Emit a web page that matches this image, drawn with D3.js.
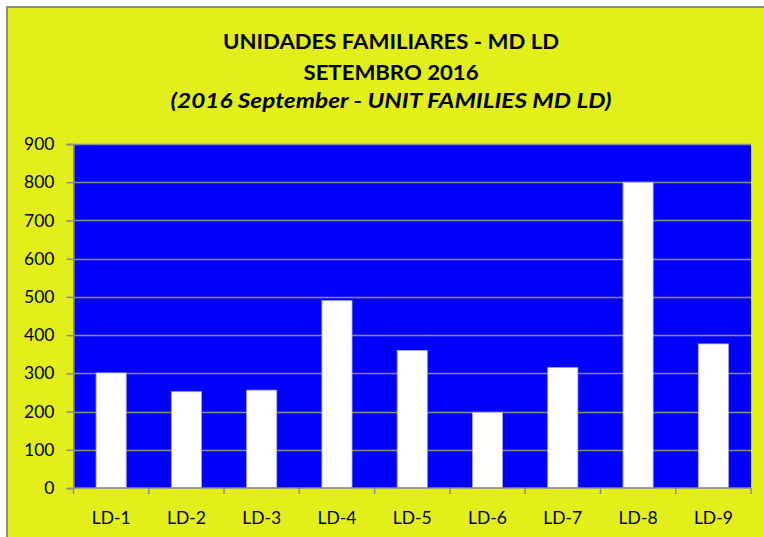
<!doctype html>
<html lang="pt">
<head>
    <meta charset="UTF-8">
    <title>Unidades Familiares - MD LD</title>
    <script src="https://d3js.org/d3.v7.min.js"></script>
    <style>
        body { margin: 0; background: #fff; }
        svg text { font-family: Lato, "Open Sans", sans-serif; }
    </style>
</head>
<body>
<div id="chart-area"></div>

<script>
const categories = ['LD-1', 'LD-2', 'LD-3', 'LD-4', 'LD-5', 'LD-6', 'LD-7', 'LD-8', 'LD-9'];
const values = [301, 252, 256, 490, 360, 198, 315, 800, 377];
const yTicks = [0, 100, 200, 300, 400, 500, 600, 700, 800, 900];
const titleLines = ['UNIDADES FAMILIARES - MD LD', 'SETEMBRO 2016', '(2016 September - UNIT FAMILIES MD LD)'];

const W = 764, H = 537;
const plot = { left: 73.5, top: 144, right: 751, bottom: 488 };
// measured widths of the title lines, so the fallback font fills the same room
const titleWidths = [336, 175, 441];

const svg = d3.select('#chart-area')
    .append('svg')
    .attr('width', W)
    .attr('height', H);

// yellow chart area with grey frame
svg.append('rect')
    .attr('x', 7).attr('y', 7)
    .attr('width', W).attr('height', H)
    .attr('fill', '#e2ef1a')
    .attr('stroke', '#8c8c8c')
    .attr('stroke-width', 2);

// titles
svg.selectAll('text.title')
    .data(titleLines)
    .enter()
    .append('text')
    .attr('class', 'title')
    .attr('x', 391)
    .attr('y', (d, i) => [48.5, 79.5, 108][i])
    .attr('text-anchor', 'middle')
    .attr('font-size', 21.5)
    .attr('font-weight', 'bold')
    .attr('font-style', (d, i) => i === 2 ? 'italic' : 'normal')
    .attr('textLength', (d, i) => titleWidths[i])
    .attr('lengthAdjust', 'spacingAndGlyphs')
    .attr('fill', '#000')
    .text(d => d);

const x = d3.scaleBand()
    .domain(categories)
    .range([plot.left, plot.right])
    .paddingInner(0.6)
    .paddingOuter(0.3);

const y = d3.scaleLinear()
    .domain([0, 900])
    .range([plot.bottom, plot.top]);

// blue plot background
svg.append('rect')
    .attr('x', plot.left)
    .attr('y', plot.top)
    .attr('width', plot.right - plot.left)
    .attr('height', plot.bottom - plot.top)
    .attr('fill', '#0000ff');

// gridlines
svg.append('g')
    .selectAll('line')
    .data(yTicks.filter(d => d > 0))
    .enter()
    .append('line')
    .attr('x1', plot.left)
    .attr('x2', plot.right)
    .attr('y1', d => Math.round(y(d)) + 0.5)
    .attr('y2', d => Math.round(y(d)) + 0.5)
    .attr('stroke', '#8a8a8a')
    .attr('stroke-width', 1.5);

// bars
svg.append('g')
    .selectAll('rect')
    .data(values)
    .enter()
    .append('rect')
    .attr('x', (d, i) => x(categories[i]))
    .attr('y', d => y(d))
    .attr('width', x.bandwidth())
    .attr('height', d => y(0) - y(d))
    .attr('fill', '#fff')
    .attr('stroke', '#a9a9d6')
    .attr('stroke-width', 0.8);

// y axis
const yAxis = svg.append('g')
    .attr('transform', `translate(${plot.left},0)`)
    .call(d3.axisLeft(y).tickValues(yTicks).tickSize(7).tickPadding(12));
yAxis.select('.domain').attr('stroke', '#8a8a8a').attr('stroke-width', 1.5);
yAxis.selectAll('.tick line').attr('stroke', '#8a8a8a').attr('stroke-width', 1.5);
yAxis.selectAll('.tick text')
    .attr('font-size', 17.5)
    .attr('fill', '#000')
    .attr('font-family', 'Lato, sans-serif');

// x axis with ticks between categories
const xAxis = svg.append('g')
    .attr('transform', `translate(0,${plot.bottom})`);
xAxis.append('line')
    .attr('x1', plot.left).attr('x2', plot.right)
    .attr('stroke', '#8a8a8a').attr('stroke-width', 1.5);
xAxis.selectAll('line.tk')
    .data(d3.range(categories.length + 1))
    .enter()
    .append('line')
    .attr('class', 'tk')
    .attr('x1', i => plot.left + i * (plot.right - plot.left) / categories.length)
    .attr('x2', i => plot.left + i * (plot.right - plot.left) / categories.length)
    .attr('y1', 0).attr('y2', 6)
    .attr('stroke', '#8a8a8a').attr('stroke-width', 1.5);
xAxis.selectAll('text')
    .data(categories)
    .enter()
    .append('text')
    .attr('x', d => x(d) + x.bandwidth() / 2)
    .attr('y', 35.5)
    .attr('text-anchor', 'middle')
    .attr('font-size', 17.5)
    .attr('fill', '#000')
    .text(d => d);
</script>

</body>
</html>
